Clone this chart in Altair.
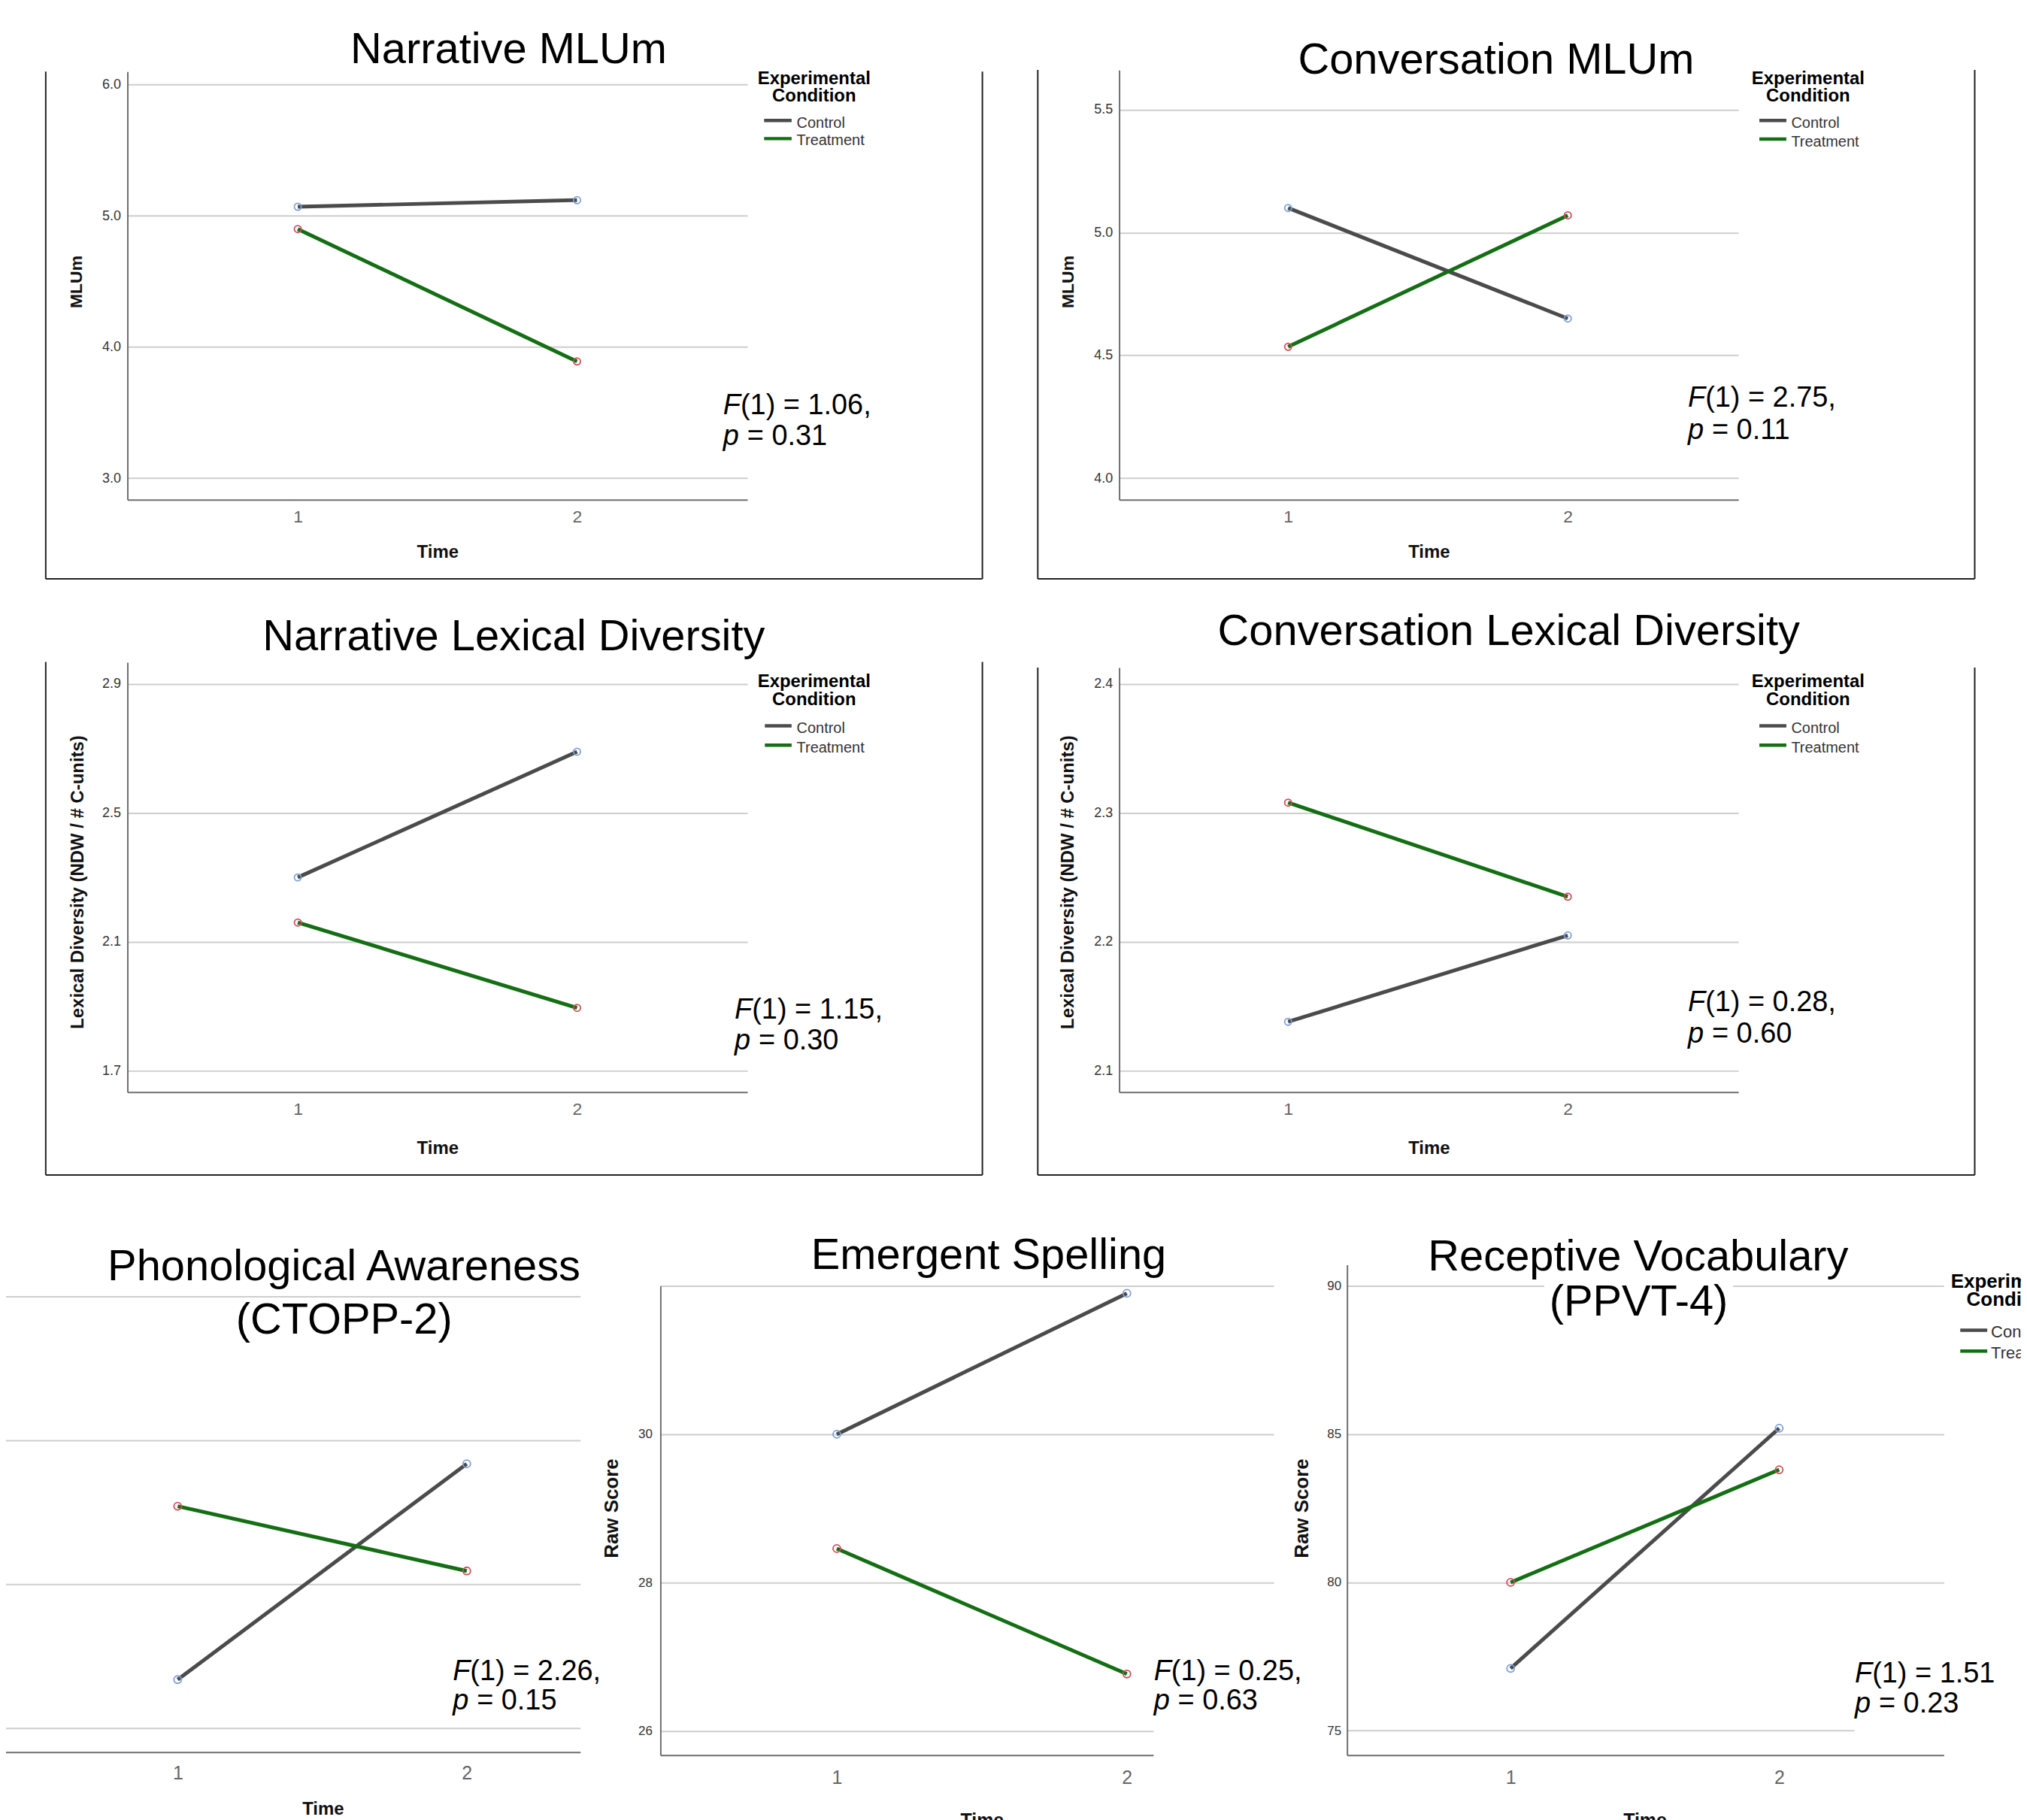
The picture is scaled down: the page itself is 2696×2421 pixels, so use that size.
import altair as alt
import pandas as pd

# ------------------------------------------------------------------ data
TIMES = [1, 2]
CONDITIONS = ["Control", "Treatment"]

PANEL_TITLES = [
    ["Narrative MLUm"],
    ["Conversation MLUm"],
    ["Narrative Lexical Diversity"],
    ["Conversation Lexical Diversity"],
    ["Phonological Awareness", "(CTOPP-2)"],
    ["Emergent Spelling"],
    ["Receptive Vocabulary", "(PPVT-4)"],
]
Y_TITLES = ["MLUm", "MLUm",
            "Lexical Diversity (NDW / # C-units)", "Lexical Diversity (NDW / # C-units)",
            "", "Raw Score", "Raw Score"]
X_TITLE = "Time"
LEGEND_TITLE = ["Experimental", "Condition"]

CONTROL_MEANS = [
    [5.07, 5.12],
    [5.10, 4.65],
    [2.30, 2.69],
    [2.138, 2.205],
    [4.67, 7.67],
    [30.0, 31.9],
    [77.1, 85.2],
]
TREATMENT_MEANS = [
    [4.90, 3.89],
    [4.535, 5.07],
    [2.16, 1.895],
    [2.308, 2.235],
    [7.08, 6.18],
    [28.46, 26.77],
    [80.0, 83.8],
]
Y_TICKS = [
    [3.0, 4.0, 5.0, 6.0],
    [4.0, 4.5, 5.0, 5.5],
    [1.7, 2.1, 2.5, 2.9],
    [2.1, 2.2, 2.3, 2.4],
    [4, 6, 8, 10],
    [26, 28, 30, 32],
    [75, 80, 85, 90],
]
X_TICKS = [1, 2]
F_STATS = ["(1) = 1.06,", "(1) = 2.75,", "(1) = 1.15,", "(1) = 0.28,",
           "(1) = 2.26,", "(1) = 0.25,", "(1) = 1.51"]
P_STATS = ["= 0.31", "= 0.11", "= 0.30", "= 0.60", "= 0.15", "= 0.63", "= 0.23"]

# ------------------------------------------------------------------ style / layout
FONT = "Liberation Sans"
LINE_COLORS = ["#4b4b4b", "#146e14"]
POINT_COLORS = ["#7aa0d8", "#d34a5a"]
GRID = "#cecece"
AXIS = "#6e6e6e"
FRAME = "#222222"
OFF = 8
W, H = 2696 - OFF, 2421 - OFF

LAYOUT = [
    dict(x0=170, x1=997, yt=92, yb=663.2, xd=[0.39, 2.61], yd=[2.835, 6.10], fmt=".1f",
         ylab=18, ypad=9, xlab=23, xpad=12, ytsize=23, xtsize=24,
         ytitle=(-68, 372), xtitle=(583.5, 69.8), titles=[(678.5, 81)], note=(966.7, 549.5, 590.5),
         legend=dict(cx=1086, tb=[108.7, 131.3], sx=[1019.3, 1056], sy=[157, 181.3], lx=1062.7,
                     lb=[167, 190.3], ts=24, ls=20),
         frame=(61, 1310.5, 92, 768.6), psize=85, boxes=[]),
    dict(x0=1493, x1=2319, yt=90, yb=663.2, xd=[0.396, 2.61], yd=[3.912, 5.661], fmt=".1f",
         ylab=18, ypad=9, xlab=23, xpad=12, ytsize=23, xtsize=24,
         ytitle=(-68, 372), xtitle=(1906, 69.8), titles=[(1995.8, 94.5)], note=(2253.7, 539, 582),
         legend=dict(cx=2412, tb=[108.7, 131.3], sx=[2347, 2383], sy=[157.2, 182], lx=2389.5,
                     lb=[167, 191.5], ts=24, ls=20),
         frame=(1384.4, 2634.3, 89.6, 768.6), psize=85, boxes=[]),
    dict(x0=170, x1=997, yt=880, yb=1453.5, xd=[0.39, 2.61], yd=[1.6335, 2.9676], fmt=".1f",
         ylab=18, ypad=9, xlab=23, xpad=12, ytsize=24, xtsize=24,
         ytitle=(-66.5, 1172.9), xtitle=(583.5, 75), titles=[(685.3, 864.2)], note=(982, 1355.5, 1397),
         legend=dict(cx=1086, tb=[913, 937.5], sx=[1020.3, 1056], sy=[964.7, 990.7], lx=1062.7,
                     lb=[974.7, 1000.7], ts=24, ls=20),
         frame=(61, 1310.5, 879.5, 1564), psize=85, boxes=[]),
    dict(x0=1493, x1=2319, yt=887, yb=1453.5, xd=[0.396, 2.61], yd=[2.0834, 2.4128], fmt=".1f",
         ylab=18, ypad=9, xlab=23, xpad=12, ytsize=24, xtsize=24,
         ytitle=(-68, 1173), xtitle=(1906, 75), titles=[(2012.7, 856.5)], note=(2253.7, 1345.5, 1388),
         legend=dict(cx=2412, tb=[913, 937.5], sx=[2347, 2383], sy=[964.7, 990.7], lx=2389.5,
                     lb=[974.7, 1000.7], ts=24, ls=20),
         frame=(1384.4, 2634.3, 887, 1564), psize=85, boxes=[]),
    dict(x0=0, x1=774, yt=1694, yb=2334, xd=[0.3854, 2.3926], yd=[3.6625, 10.33], fmt="d",
         ylabels=False, ylab=17, ypad=9, xlab=25, xpad=16, ytsize=26, xtsize=24,
         ytitle=(-66, 2014), xtitle=(430.6, 76.5),
         titles=[(458.9, 1704.7), (459, 1775.4)], note=(606, 2238, 2277),
         legend=None, frame=None, psize=100, boxes=[]),
    dict(x0=881, x1=1699, yt=1712, yb=2338.2, xd=[0.392, 2.506], yd=[25.675, 32.0], fmt="d",
         labelExpr="datum.value >= 32 ? '' : datum.label",
         ylab=17, ypad=11, xlab=25, xpad=18, ytsize=26, xtsize=25,
         ytitle=(-65.5, 2008.4), xtitle=(1309.7, 87), titles=[(1318.9, 1689)], note=(1541.2, 2238, 2277),
         legend=None, frame=None, psize=100, boxes=[(1539, 1701, 2185, 2346)]),
    dict(x0=1797, x1=2593, yt=1684, yb=2338.2, xd=[0.391, 2.613], yd=[74.171, 90.708], fmt="d",
         ylab=17, ypad=8, xlab=25, xpad=18, ytsize=26, xtsize=25,
         ytitle=(-60.2, 2008.4), xtitle=(2194, 87),
         titles=[(2185.4, 1691.6), (2186, 1751.8)], note=(2476.4, 2240.6, 2281),
         legend=dict(cx=2684, tb=[1714, 1739], sx=[2615, 2651], sy=[1771.2, 1798.9], lx=2656,
                     lb=[1781, 1809], ts=26, ls=22),
         frame=None, psize=100, boxes=[(2474, 2600, 2180, 2322), (2060, 2312, 1706, 1765)]),
]

ONE = pd.DataFrame({"k": [0]})


def text(x, y, s, size, weight="normal", style="normal", align="left", color="#000000"):
    return alt.Chart(ONE).mark_text(
        align=align, baseline="alphabetic", font=FONT, fontSize=size,
        fontWeight=weight, fontStyle=style, color=color,
    ).encode(x=alt.value(x - OFF), y=alt.value(y - OFF), text=alt.value(s))


def vrule(x, y1, y2, color, width):
    return alt.Chart(ONE).mark_rule(color=color, strokeWidth=width).encode(
        x=alt.value(x - OFF), y=alt.value(y1 - OFF), y2=alt.value(y2 - OFF))


def hrule(x1, x2, y, color, width):
    return alt.Chart(ONE).mark_rule(color=color, strokeWidth=width).encode(
        x=alt.value(x1 - OFF), x2=alt.value(x2 - OFF), y=alt.value(y - OFF))


def box(x1, x2, y1, y2):
    return alt.Chart(ONE).mark_rect(color="white", opacity=1).encode(
        x=alt.value(x1 - OFF), x2=alt.value(x2 - OFF), y=alt.value(y1 - OFF), y2=alt.value(y2 - OFF))


def panel(i):
    L = LAYOUT[i]
    df = pd.DataFrame({
        "Time": TIMES + TIMES,
        "Mean": CONTROL_MEANS[i] + TREATMENT_MEANS[i],
        "Condition": [CONDITIONS[0]] * len(TIMES) + [CONDITIONS[1]] * len(TIMES),
    })
    yax = dict(
        orient="left", offset=-(L["x0"] - OFF), values=Y_TICKS[i], format=L["fmt"],
        grid=True, gridColor=GRID, gridWidth=2,
        domain=True, domainColor=AXIS, domainWidth=2,
        ticks=False, tickSize=0,
        labels=L.get("ylabels", True), labelFont=FONT, labelFontSize=L["ylab"],
        labelColor="#333333", labelPadding=L["ypad"],
        title=Y_TITLES[i], titleFont=FONT, titleFontSize=L["ytsize"], titleFontWeight="bold",
        titleColor="#111111", titleAngle=270, titleAlign="center", titleBaseline="middle",
        titleX=L["ytitle"][0], titleY=L["ytitle"][1] - OFF, zindex=0,
    )
    if "labelExpr" in L:
        yax["labelExpr"] = L["labelExpr"]
    xax = dict(
        orient="bottom", offset=(L["yb"] - OFF) - H, values=X_TICKS, format="d",
        grid=False, domain=True, domainColor=AXIS, domainWidth=2,
        ticks=False, tickSize=0, labelFlush=False,
        labelFont=FONT, labelFontSize=L["xlab"], labelColor="#666666", labelPadding=L["xpad"],
        title=X_TITLE, titleFont=FONT, titleFontSize=L["xtsize"], titleFontWeight="bold",
        titleColor="#111111", titleAlign="center", titleBaseline="middle",
        titleX=L["xtitle"][0] - OFF, titleY=L["xtitle"][1], zindex=0,
    )
    x = alt.X("Time:Q", scale=alt.Scale(domain=L["xd"], range=[L["x0"] - OFF, L["x1"] - OFF],
                                        nice=False, zero=False), axis=alt.Axis(**xax))
    y = alt.Y("Mean:Q", scale=alt.Scale(domain=L["yd"], range=[L["yb"] - OFF, L["yt"] - OFF],
                                        nice=False, zero=False), axis=alt.Axis(**yax))
    base = alt.Chart(df)
    lines = base.mark_line(strokeWidth=5).encode(
        x=x, y=y,
        color=alt.Color("Condition:N", scale=alt.Scale(domain=CONDITIONS, range=LINE_COLORS), legend=None),
    )
    pts = base.mark_point(shape="circle", filled=False, size=L["psize"], strokeWidth=1.8, opacity=1).encode(
        x=x, y=y,
        stroke=alt.Stroke("Condition:N", scale=alt.Scale(domain=CONDITIONS, range=POINT_COLORS), legend=None),
    )
    return alt.layer(lines, pts)


def decorations(i):
    L = LAYOUT[i]
    out = []
    for b in L["boxes"]:
        out.append(box(*b))
    if L["frame"]:
        l, r, t, b = L["frame"]
        out += [vrule(l, t, b, FRAME, 2), vrule(r, t, b, FRAME, 2), hrule(l, r, b, FRAME, 2)]
    for (cx, by), line in zip(L["titles"], PANEL_TITLES[i]):
        out.append(text(cx, by, line, 58, align="center"))
    nx, b1, b2 = L["note"]
    ox = nx - 2
    out += [
        text(ox, b1, "F", 38, style="italic"),
        text(ox + 23.2, b1, F_STATS[i], 38),
        text(ox, b2, "p", 38, style="italic"),
        text(ox + 32, b2, P_STATS[i], 38),
    ]
    lg = L["legend"]
    if lg:
        for by, line in zip(lg["tb"], LEGEND_TITLE):
            out.append(text(lg["cx"], by, line, lg["ts"], weight="bold", align="center"))
        for k in range(len(CONDITIONS)):
            out.append(hrule(lg["sx"][0], lg["sx"][1], lg["sy"][k], LINE_COLORS[k], 4.5))
            out.append(text(lg["lx"], lg["lb"][k], CONDITIONS[k], lg["ls"], color="#333333"))
    return out


layers = [panel(i) for i in range(len(LAYOUT))]
for i in range(len(LAYOUT)):
    layers += decorations(i)

chart = (
    alt.layer(*layers)
    .resolve_scale(x="independent", y="independent")
    .resolve_axis(x="independent", y="independent")
    .properties(width=W, height=H, autosize=alt.AutoSizeParams(type="none"), padding=0)
    .configure_view(stroke="transparent")
)

chart.save("out.html", embed_options={"renderer": "svg", "actions": False})
